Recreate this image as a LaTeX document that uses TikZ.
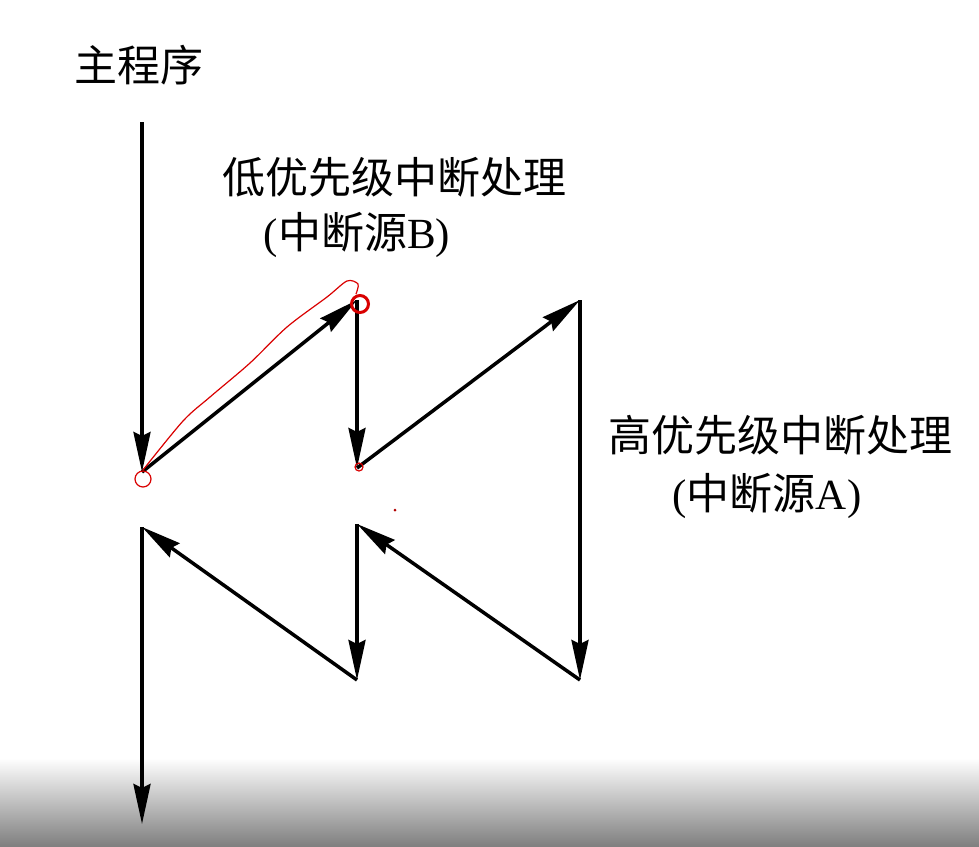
\documentclass[tikz,border=0pt]{standalone}
\usepackage{fontspec}
\setmainfont{Liberation Serif}
\newfontfamily\cjk{Noto Sans CJK SC}
\usetikzlibrary{arrows.meta}

\begin{document}
\begin{tikzpicture}[x=1pt, y=-1pt, line width=3.5pt,
                    flow/.style = {-{Stealth[length=40pt, width=17pt, inset=4pt]}},
                    txt/.style = {font=\fontsize{43}{48}\selectfont, inner sep=0pt},
                    redpen/.style = {draw=red!85!black, line width=1.2pt}]
                    \useasboundingbox (0,0) rectangle (979,846);
                    \shade[top color=white, bottom color=black!50] (0,758) rectangle (979,846);

                    \coordinate (m0) at (142,122);
                    \coordinate (m1) at (142,472);
                    \coordinate (b1) at (357,300);
                    \coordinate (b2) at (357,468);
                    \coordinate (a1) at (580,300);
                    \coordinate (a2) at (580,680);
                    \coordinate (b3) at (357,524);
                    \coordinate (b4) at (357,680);
                    \coordinate (m2) at (142,527);
                    \coordinate (m3) at (142,824);

                    \node[txt] (main) at (139,65) {\cjk 主程序};
                    \node[txt] (low) at (394,177) {\cjk 低优先级中断处理};
                    \node[txt] (srcB) at (357,235) {({\cjk 中断源}B)};
                    \node[txt] (high) at (780,435) {\cjk 高优先级中断处理};
                    \node[txt] (srcA) at (767,496) {({\cjk 中断源}A)};

                    \draw[flow] (m0) -- (m1);
                    \draw[flow] (m1) -- (b1);
                    \draw[flow] (b1) -- (b2);
                    \draw[flow] (b2) -- (a1);
                    \draw[flow] (a1) -- (a2);
                    \draw[flow] (a2) -- (b3);
                    \draw[flow] (b3) -- (b4);
                    \draw[flow] (b4) -- (m2);
                    \draw[flow] (m2) -- (m3);

                    % red pen marks
                    \draw[redpen] (143,479) circle (8pt);
                    \draw[redpen, line width=3pt] (360,304) circle (8.5pt);
                    \draw[redpen] (359,467) circle (4pt);
                    \draw[redpen] plot[smooth] coordinates {(143,470) (183,421) (210,397) (250,363)
                                  (287,327) (327,297) (347,281) (358,284) (356,294)};
                    \fill[red!70!black] (395,510) circle (1.5pt);
                \end{tikzpicture}
\end{document}
